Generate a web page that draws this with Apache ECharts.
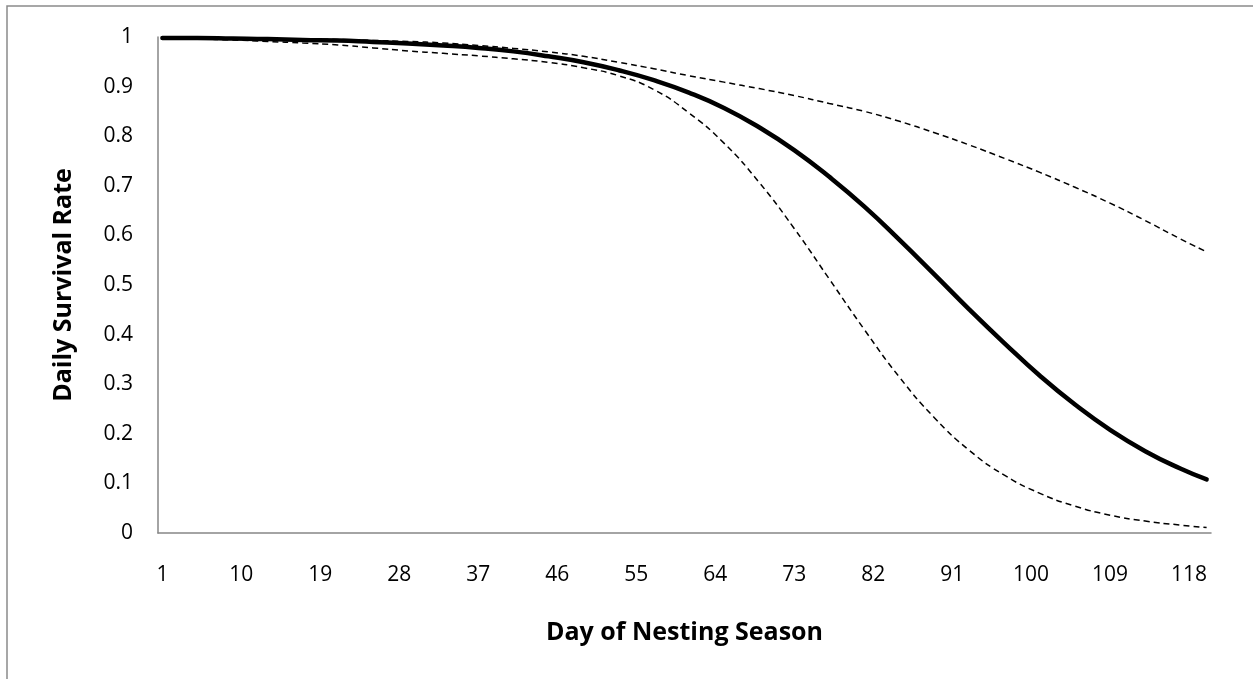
<!DOCTYPE html>
<html>
  <head>
    <meta charset="utf-8">
    <title>Daily Survival Rate</title>
    <script src="https://cdn.jsdelivr.net/npm/echarts@6/dist/echarts.min.js"></script>
  </head>
  <style>
    html,body {
      width: 100%;
      height: 100%;
      margin: 0;
      padding: 0;
      background: #fff;
    }
    #chart {
      width: 1253px;
      height: 679px;
    }
  </style>
  <body>
    <div id="chart"></div>
  </body>
  <script>
    // days on the x axis: 1..120
    var days = [];
    for (var d = 1; d <= 120; d++) days.push(String(d));

    var sampleDays = [1, 5, 9, 13, 17, 21, 25, 29, 33, 37, 41, 45, 49, 53, 57, 61,
      65, 69, 73, 77, 81, 85, 89, 93, 97, 101, 105, 109, 113, 117, 120];

    var estimate = [0.998, 0.998, 0.997, 0.996, 0.994, 0.993, 0.990, 0.987, 0.983, 0.978,
      0.971, 0.961, 0.949, 0.933, 0.913, 0.888, 0.857, 0.818, 0.772, 0.718,
      0.658, 0.591, 0.521, 0.450, 0.382, 0.317, 0.259, 0.208, 0.165, 0.130, 0.108];

    var upper = [0.999, 0.999, 0.998, 0.997, 0.996, 0.995, 0.993, 0.991, 0.988, 0.983,
      0.977, 0.970, 0.961, 0.949, 0.936, 0.922, 0.909, 0.896, 0.882, 0.866,
      0.850, 0.830, 0.807, 0.782, 0.755, 0.727, 0.697, 0.665, 0.630, 0.593, 0.567];

    var lower = [0.998, 0.996, 0.994, 0.991, 0.988, 0.984, 0.978, 0.972, 0.967, 0.962,
      0.956, 0.949, 0.938, 0.922, 0.894, 0.847, 0.786, 0.707, 0.614, 0.512,
      0.410, 0.314, 0.232, 0.166, 0.116, 0.080, 0.054, 0.036, 0.024, 0.016, 0.011];

    function pairs(vals) {
      return sampleDays.map(function (day, i) {
        return [String(day), vals[i]];
      });
    }

    var font = '"Open Sans", "Noto Sans", sans-serif';

    var options = {
      animation: false,
      backgroundColor: '#fff',
      graphic: [{
        type: 'rect',
        shape: { x: 7, y: 6, width: 1300, height: 720 },
        style: { fill: 'none', stroke: '#8a8a8a', lineWidth: 1.5 },
        silent: true
      }],
      grid: {
        left: 158,
        top: 37,
        right: 42,
        bottom: 146
      },
      xAxis: {
        type: 'category',
        data: days,
        boundaryGap: true,
        name: 'Day of Nesting Season',
        nameLocation: 'middle',
        nameGap: 87,
        nameTextStyle: {
          fontFamily: font,
          fontSize: 25,
          fontWeight: 'bold',
          color: '#000'
        },
        axisLine: { lineStyle: { color: '#868686', width: 1.5 } },
        axisTick: { show: false },
        axisLabel: {
          interval: 8,
          margin: 32,
          fontFamily: font,
          fontSize: 21,
          color: '#000'
        },
        splitLine: { show: false }
      },
      yAxis: {
        type: 'value',
        min: 0,
        max: 1,
        interval: 0.1,
        name: 'Daily Survival Rate',
        nameLocation: 'middle',
        nameGap: 82,
        nameTextStyle: {
          fontFamily: font,
          fontSize: 25,
          fontWeight: 'bold',
          color: '#000'
        },
        axisLine: { show: true, lineStyle: { color: '#868686', width: 1.5 } },
        axisTick: { show: false },
        axisLabel: {
          margin: 25,
          fontFamily: font,
          fontSize: 21,
          color: '#000'
        },
        splitLine: { show: false }
      },
      series: [{
        name: 'upper',
        type: 'line',
        data: pairs(upper),
        smooth: true,
        symbol: 'none',
        lineStyle: { color: '#000', width: 1.5, type: [6, 4] }
      }, {
        name: 'lower',
        type: 'line',
        data: pairs(lower),
        smooth: true,
        symbol: 'none',
        lineStyle: { color: '#000', width: 1.5, type: [6, 4] }
      }, {
        name: 'estimate',
        type: 'line',
        data: pairs(estimate),
        smooth: true,
        symbol: 'none',
        lineStyle: { color: '#000', width: 4.5, cap: 'round' }
      }]
    };

    var charts = echarts.init(document.getElementById('chart'));
    charts.setOption(options);
  </script>
</html>
